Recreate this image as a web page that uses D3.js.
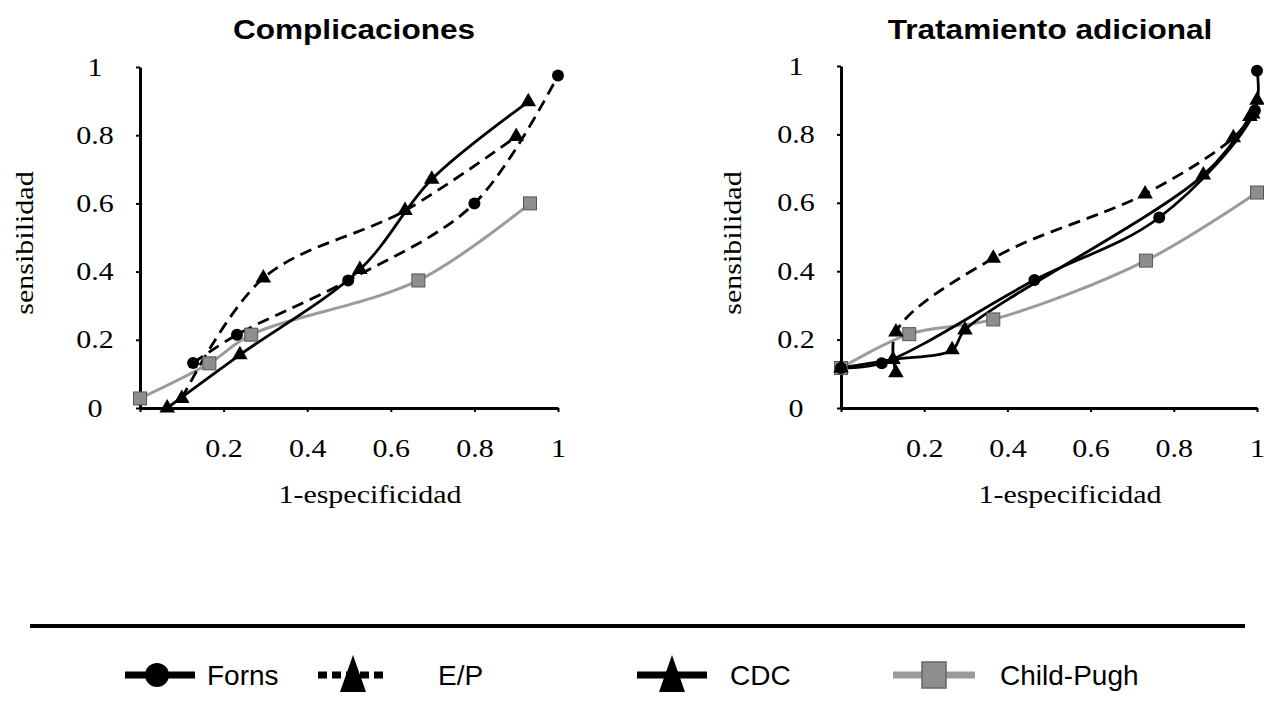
<!DOCTYPE html>
<html>
<head>
<meta charset="utf-8">
<script src="https://cdn.jsdelivr.net/npm/d3@7"></script>
<style>
  body { margin: 0; background: #fff; }
  svg { display: block; }
</style>
</head>
<body>
<div id="chart"></div>
<script>
// values, [1-especificidad, sensibilidad]
var compForns = [[0.127, 0.132], [0.232, 0.215], [0.498, 0.374], [0.80, 0.60], [1.0, 0.975]];
var compEP    = [[0.10, 0.028], [0.295, 0.381], [0.634, 0.579], [0.90, 0.796]];
var compCDC   = [[0.065, 0], [0.239, 0.156], [0.526, 0.406], [0.698, 0.671], [0.929, 0.898]];
var compCP    = [[0, 0.028], [0.166, 0.131], [0.266, 0.215], [0.666, 0.374], [0.933, 0.60]];

var tratForns = [[0, 0.117], [0.098, 0.131], [0.465, 0.374], [0.765, 0.557], [0.995, 0.87], [1.0, 0.986]];
var tratEP    = [[0.132, 0.103], [0.132, 0.222], [0.366, 0.438], [0.731, 0.626], [0.943, 0.79], [0.99, 0.86]];
var tratCDC   = [[0, 0.117], [0.125, 0.142], [0.267, 0.17], [0.298, 0.228], [0.871, 0.681], [0.983, 0.852], [1.0, 0.9]];
var tratCP    = [[0, 0.117], [0.164, 0.216], [0.366, 0.259], [0.733, 0.431], [1.0, 0.63]];

var tickVals = [0, 0.2, 0.4, 0.6, 0.8, 1];
var seriesNames = ["Forns", "E/P", "CDC", "Child-Pugh"];

var svgWidth = 1264;
var svgHeight = 728;
var serif = "'Liberation Serif', 'Times New Roman', serif";
var sans = "'Liberation Sans', Arial, sans-serif";
var stretch = 1.2; // text in the picture is drawn wide

var svg = d3.select("#chart")
  .append("svg")
  .attr("width", svgWidth)
  .attr("height", svgHeight);

var panels = [
  { title: "Complicaciones", left: 140, right: 558, top: 67, bottom: 408, titleX: 354, ylabX: 33,
    series: { forns: compForns, ep: compEP, cdc: compCDC, cp: compCP }, fornsDash: true },
  { title: "Tratamiento adicional", left: 841, right: 1257, top: 66, bottom: 408, titleX: 1050, ylabX: 741,
    series: { forns: tratForns, ep: tratEP, cdc: tratCDC, cp: tratCP }, fornsDash: false }
];

var gray = "#9b9b9b";
var squareFill = "#8e8e8e";

function drawPanel(p) {
  var x = d3.scaleLinear().domain([0, 1]).range([p.left, p.right]);
  var y = d3.scaleLinear().domain([0, 1]).range([p.bottom, p.top]);
  var g = svg.append("g");

  // title
  g.append("text")
    .attr("transform", `translate(${p.titleX}, 39) scale(1.17,1)`)
    .attr("text-anchor", "middle")
    .style("font-family", sans)
    .style("font-weight", "bold")
    .style("font-size", "27px")
    .text(p.title);

  // axes
  var leftAxis = d3.axisLeft(y).tickValues(tickVals).tickSize(4).tickSizeOuter(0)
    .tickFormat(d => String(d));
  var bottomAxis = d3.axisBottom(x).tickValues(tickVals).tickSize(4).tickSizeOuter(0)
    .tickPadding(27)
    .tickFormat(d => d === 0 ? "" : String(d));

  var yAx = g.append("g")
    .attr("transform", `translate(${p.left}, 0)`)
    .call(leftAxis);
  var xAx = g.append("g")
    .attr("transform", `translate(0, ${p.bottom})`)
    .call(bottomAxis);

  [yAx, xAx].forEach(function(ax) {
    ax.select(".domain").attr("stroke", "#000").attr("stroke-width", 3);
    ax.selectAll(".tick line").attr("stroke", "#000").attr("stroke-width", 2);
    ax.selectAll("text")
      .style("font-family", serif)
      .style("font-size", "25px")
      .attr("fill", "#000");
  });
  yAx.selectAll("text")
    .attr("text-anchor", "middle")
    .attr("x", -45 / stretch)
    .attr("transform", `scale(${stretch},1)`);
  xAx.selectAll("text")
    .attr("transform", `scale(${stretch},1)`);

  // axis titles
  g.append("text")
    .attr("transform", `translate(${(p.left + p.right) / 2 + 21}, 503) scale(${stretch},1)`)
    .attr("text-anchor", "middle")
    .style("font-family", serif)
    .style("font-size", "25px")
    .text("1-especificidad");

  g.append("text")
    .attr("transform", `translate(${p.ylabX}, 243) rotate(-90) scale(${stretch},1)`)
    .attr("text-anchor", "middle")
    .style("font-family", serif)
    .style("font-size", "25px")
    .text("sensibilidad");

  var line = d3.line()
    .x(d => x(d[0]))
    .y(d => y(d[1]))
    .curve(d3.curveCatmullRom.alpha(0.5));

  // Child-Pugh underneath
  g.append("path")
    .datum(p.series.cp)
    .attr("d", line)
    .attr("fill", "none")
    .attr("stroke", gray)
    .attr("stroke-width", 3);

  g.append("path")
    .datum(p.series.ep)
    .attr("d", line)
    .attr("fill", "none")
    .attr("stroke", "#000")
    .attr("stroke-width", 2.8)
    .attr("stroke-dasharray", "12,7");

  g.append("path")
    .datum(p.series.cdc)
    .attr("d", line)
    .attr("fill", "none")
    .attr("stroke", "#000")
    .attr("stroke-width", 2.8);

  g.append("path")
    .datum(p.series.forns)
    .attr("d", line)
    .attr("fill", "none")
    .attr("stroke", "#000")
    .attr("stroke-width", 2.8)
    .attr("stroke-dasharray", p.fornsDash ? "12,7" : null);

  // markers
  g.selectAll(".cp-mark")
    .data(p.series.cp)
    .enter()
    .append("rect")
    .attr("x", d => x(d[0]) - 6.5)
    .attr("y", d => y(d[1]) - 6.5)
    .attr("width", 13)
    .attr("height", 13)
    .attr("fill", squareFill)
    .attr("stroke", "#555")
    .attr("stroke-width", 1);

  var tri = d3.symbol().type(d3.symbolTriangle).size(105);
  g.selectAll(".ep-mark")
    .data(p.series.ep.concat(p.series.cdc))
    .enter()
    .append("path")
    .attr("d", tri)
    .attr("transform", d => `translate(${x(d[0])}, ${y(d[1])})`)
    .attr("fill", "#000");

  g.selectAll(".forns-mark")
    .data(p.series.forns)
    .enter()
    .append("circle")
    .attr("cx", d => x(d[0]))
    .attr("cy", d => y(d[1]))
    .attr("r", 6)
    .attr("fill", "#000");
}

panels.forEach(drawPanel);

// legend
svg.append("line")
  .attr("x1", 30).attr("x2", 1245)
  .attr("y1", 626).attr("y2", 626)
  .attr("stroke", "#000")
  .attr("stroke-width", 4);

var legendX = [125, 318, 637, 893];
var legendTextX = [207, 438, 730, 1000];
var legendY = 675;
var leg = svg.append("g");

seriesNames.forEach(function(name, i) {
  var x0 = legendX[i];
  var len = i === 3 ? 82 : 70;
  var mid = x0 + len / 2;
  leg.append("line")
    .attr("x1", x0).attr("x2", x0 + len)
    .attr("y1", legendY).attr("y2", legendY)
    .attr("stroke", i === 3 ? gray : "#000")
    .attr("stroke-width", 7)
    .attr("stroke-dasharray", i === 1 ? "9,5" : null);

  if (i === 0) {
    leg.append("circle").attr("cx", mid - 3).attr("cy", legendY).attr("r", 12).attr("fill", "#000");
  } else if (i === 3) {
    leg.append("rect")
      .attr("x", mid - 12).attr("y", legendY - 13)
      .attr("width", 24).attr("height", 26)
      .attr("fill", squareFill).attr("stroke", "#666").attr("stroke-width", 1.5);
  } else {
    leg.append("path")
      .attr("d", `M${mid},${legendY - 20} L${mid + 13},${legendY + 17} L${mid - 13},${legendY + 17} Z`)
      .attr("fill", "#000");
  }

  leg.append("text")
    .attr("x", legendTextX[i])
    .attr("y", legendY + 10)
    .style("font-family", sans)
    .style("font-size", "28px")
    .text(name);
});
</script>
</body>
</html>
